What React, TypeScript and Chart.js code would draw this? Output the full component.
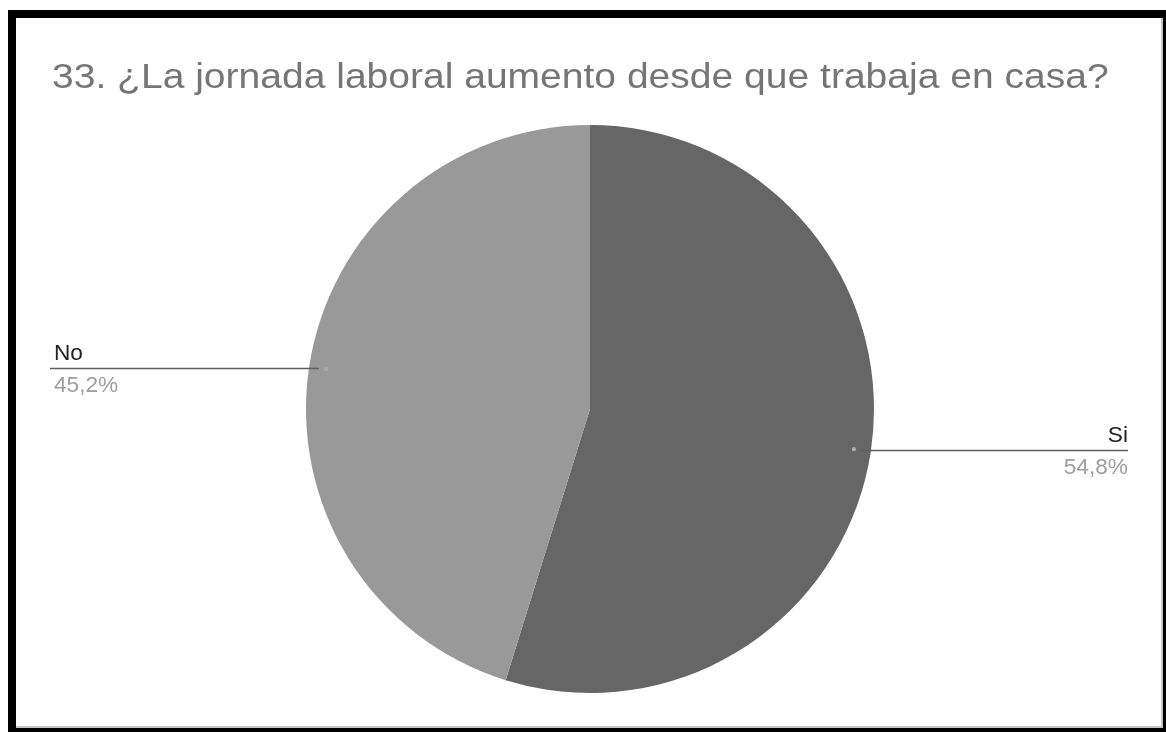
import React, { useEffect, useRef } from "react";
import { Chart, registerables } from "chart.js";

Chart.register(...registerables);

const TITLE = "33. ¿La jornada laboral aumento desde que trabaja en casa?";
const categories = ["Si", "No"];
const percentages = [54.8, 45.2];
const percentLabels = ["54,8%", "45,2%"];
const sliceColors = ["#666666", "#999999"];

const FONT = '"Liberation Sans", Arial, sans-serif';

function stretchedText(ctx: any, text: string, x: number, y: number, sx: number, align: "left" | "right") {
  ctx.save();
  ctx.translate(x, y);
  ctx.scale(sx, 1);
  ctx.textAlign = align;
  ctx.textBaseline = "alphabetic";
  ctx.fillText(text, 0, 0);
  ctx.restore();
}

const leaderPlugin = {
  id: "leaderLabels",
  afterDraw(chart: any) {
    const ctx = chart.ctx;
    const meta = chart.getDatasetMeta(0);
    const area = chart.chartArea;
    ctx.save();
    // title
    ctx.font = `35px ${FONT}`;
    ctx.fillStyle = "#757575";
    stretchedText(ctx, TITLE, area.left + 3, 70, 1.115, "left");

    meta.data.forEach((arc: any, i: number) => {
      const mid = (arc.startAngle + arc.endAngle) / 2;
      const r = arc.outerRadius;
      const cos = Math.cos(mid);
      const sin = Math.sin(mid);
      const right = cos >= 0;
      const ax = arc.x + cos * r * 0.94;
      const ay = arc.y + sin * r * 0.94;
      const sx = arc.x + cos * r * 0.965;
      const sy = arc.y + sin * r * 0.965;
      const ex = right ? area.right - 3 : area.left + 1;
      // anchor dot
      ctx.fillStyle = "#a8a8a8";
      ctx.beginPath();
      ctx.arc(ax, ay, 2.2, 0, Math.PI * 2);
      ctx.fill();
      // leader line
      ctx.strokeStyle = "#5f5f5f";
      ctx.lineWidth = 1.6;
      ctx.beginPath();
      ctx.moveTo(right ? sx : ex, Math.round(sy) + 0.5);
      ctx.lineTo(right ? ex : sx, Math.round(sy) + 0.5);
      ctx.stroke();
      // labels
      const tx = right ? ex : ex + 4;
      const align = right ? "right" : "left";
      ctx.font = `22px ${FONT}`;
      ctx.fillStyle = "#222222";
      stretchedText(ctx, categories[i], tx, sy - 8, 1.03, align);
      ctx.fillStyle = "#9e9e9e";
      stretchedText(ctx, percentLabels[i], tx, sy + 24, 1.03, align);
    });
    ctx.restore();
  },
};

export default function App() {
  const canvasRef = useRef<HTMLCanvasElement | null>(null);

  useEffect(() => {
    document.body.style.margin = "0";
    const canvas = canvasRef.current;
    if (!canvas) return;
    const chart = new Chart(canvas, {
      type: "pie",
      data: {
        labels: categories,
        datasets: [
          {
            data: percentages,
            backgroundColor: sliceColors,
            borderWidth: 0,
          },
        ],
      },
      options: {
        animation: false,
        responsive: false,
        maintainAspectRatio: false,
        layout: { padding: { left: 33, right: 32, top: 107, bottom: 35 } },
        plugins: {
          legend: { display: false },
          tooltip: { enabled: false },
          title: { display: false },
        },
      },
      plugins: [leaderPlugin],
    });
    return () => chart.destroy();
  }, []);

  return (
    <div style={{ position: "relative", width: 1166, height: 732, background: "#ffffff", overflow: "hidden" }}>
      <div
        style={{
          position: "absolute",
          left: 8,
          top: 10,
          width: 1158,
          height: 722,
          boxSizing: "border-box",
          borderLeft: "8px solid #000",
          borderTop: "8px solid #000",
          borderRight: "3px solid #000",
          borderBottom: "4px solid #000",
        }}
      >
        <div
          style={{
            position: "absolute",
            left: 0,
            top: 0,
            width: 1147,
            height: 710,
            boxSizing: "border-box",
            borderRight: "2px solid #c4c4c4",
            borderBottom: "2px solid #c4c4c4",
          }}
        />
        <canvas
          ref={canvasRef}
          width={1147}
          height={710}
          style={{ position: "absolute", left: 0, top: 0, width: 1147, height: 710 }}
        />
      </div>
    </div>
  );
}
